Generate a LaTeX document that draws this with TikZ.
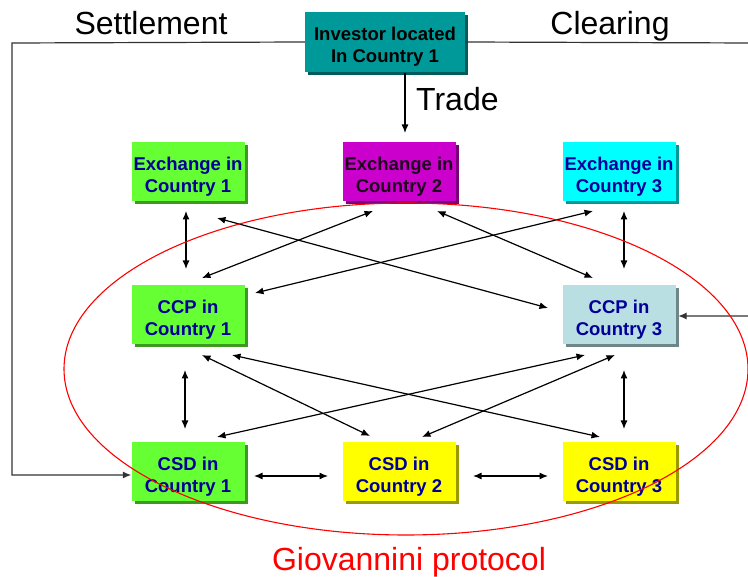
\documentclass[tikz,border=0pt]{standalone}
\usepackage{fontspec}
\setmainfont{Liberation Sans}
\usetikzlibrary{calc,shadows,arrows.meta}

\definecolor{exgreen}{RGB}{102,255,51}
\definecolor{exmagenta}{RGB}{204,0,204}
\definecolor{excyan}{RGB}{0,255,255}
\definecolor{ccpblue}{RGB}{185,223,227}
\definecolor{csdyellow}{RGB}{255,255,0}
\definecolor{invteal}{RGB}{0,153,153}
\definecolor{boxtext}{RGB}{0,0,153}

\tikzset{
  >={Latex[length=8.5pt,width=7pt]},
  box/.style={fill=#1, minimum width=113pt, minimum height=59pt, inner sep=0pt,
    align=center, font=\fontsize{18.5}{22}\selectfont\bfseries, text=boxtext,
    execute at begin node={\rule{0pt}{45pt}},
    drop shadow={fill=#1!60!black, opacity=1, shadow xshift=3pt, shadow yshift=-3pt}},
  link/.style={<->, line width=1.2pt},
  flow/.style={->, line width=1.2pt},
  bigtext/.style={font=\fontsize{32}{38}\selectfont, anchor=base, inner sep=0pt}
}

\begin{document}
\begin{tikzpicture}[x=1pt,y=-1pt]
\useasboundingbox (0,0) rectangle (748,577);

% investor and the three layers
\node[box=invteal, minimum width=160pt, minimum height=60pt, text=black] (inv) at (385,42) {Investor located\\In Country 1};
\node[box=exgreen] (ex1) at (188,171.5) {Exchange in\\Country 1};
\node[box=exmagenta, text=black!85!exmagenta] (ex2) at (399,171.5) {Exchange in\\Country 2};
\node[box=excyan] (ex3) at (619,171.5) {Exchange in\\Country 3};
\node[box=exgreen] (ccp1) at (188,315) {CCP in\\Country 1};
\node[box=ccpblue] (ccp3) at (619,315) {CCP in\\Country 3};
\node[box=exgreen] (csd1) at (188,472) {CSD in\\Country 1};
\node[box=csdyellow] (csd2) at (399,472) {CSD in\\Country 2};
\node[box=csdyellow] (csd3) at (619,472) {CSD in\\Country 3};

% labels
\node[bigtext] (settle) at (151,35) {Settlement};
\node[bigtext] (clear) at (610,35) {Clearing};
\node[bigtext, anchor=base west] (trade) at (416,111) {Trade};
\node[bigtext, text=red] (giov) at (409,571) {Giovannini protocol};

% trade, settlement and clearing lines
\draw[flow] ($(inv)+(20,31)$) -- ($(ex2)+(6,-38.5)$);
\draw[flow, black!80] (inv.west) -- (12,43) |- ($(csd1.west)+(0,3)$);
\draw[flow, black!80] (inv.east) -- (752,43) |- ($(ccp3.east)+(2.5,1)$);

% exchange <-> ccp
\draw[link] ($(ex1)+(-2,39.5)$) -- ($(ccp1)+(-2,-46)$);
\draw[link] ($(ex1)+(29,46.5)$) -- ($(ccp3)+(-71,-7)$);
\draw[link] ($(ex2)+(-26,39.5)$) -- ($(ccp1)+(14,-37)$);
\draw[link] ($(ex2)+(38,39.5)$) -- ($(ccp3)+(-26,-37)$);
\draw[link] ($(ex3)+(-26,39.5)$) -- ($(ccp1)+(67,-22)$);
\draw[link] ($(ex3)+(5,39.5)$) -- ($(ccp3)+(5,-46)$);

% ccp <-> csd
\draw[link] ($(ccp1)+(-3,55)$) -- ($(csd1)+(-3,-43)$);
\draw[link] ($(ccp1)+(14,40)$) -- ($(csd2)+(-29,-36)$);
\draw[link] ($(ccp1)+(44,40)$) -- ($(csd3)+(-19,-35)$);
\draw[link] ($(ccp3)+(-34,40)$) -- ($(csd1)+(29,-35)$);
\draw[link] ($(ccp3)+(-4,40)$) -- ($(csd2)+(23,-35)$);
\draw[link] ($(ccp3)+(5,55)$) -- ($(csd3)+(5,-43)$);

% csd <-> csd
\draw[link] ($(csd1)+(66,4)$) -- ($(csd2)+(-71,4)$);
\draw[link] ($(csd2)+(74,4)$) -- ($(csd3)+(-71,4)$);

% protocol ring
\draw[red, line width=1.1pt] (406,369) ellipse (342pt and 166pt);

\end{tikzpicture}
\end{document}
